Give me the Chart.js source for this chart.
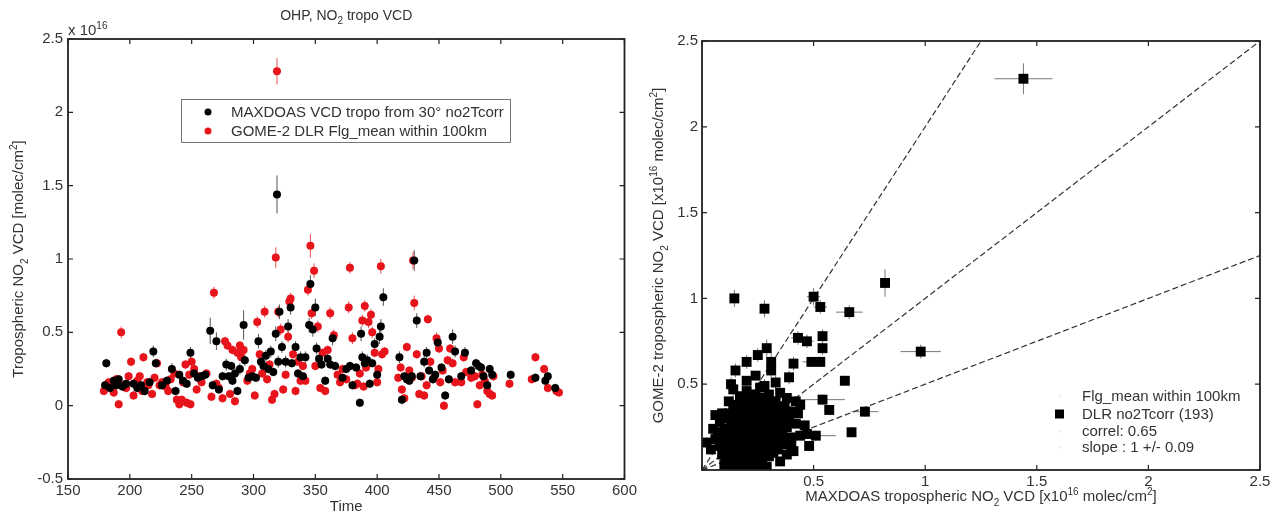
<!DOCTYPE html>
<html>
<head>
<meta charset="utf-8">
<script src="https://cdn.jsdelivr.net/npm/chart.js@4"></script>
<style>
  html, body { margin: 0; padding: 0; background: #fff; }
  #wrap { position: relative; width: 1277px; height: 515px; }
  .panel { position: absolute; top: 0; height: 515px; }
  #left { left: 0; width: 640px; }
  #right { left: 640px; width: 637px; }
</style>
</head>
<body>
<div id="wrap">
  <div class="panel" id="left"><canvas id="timeChart"></canvas></div>
  <div class="panel" id="right"><canvas id="corrChart"></canvas></div>
</div>
<script>
// time series: [day, VCD (x1e16), error]
const maxdoas = [
  [180,0.14,0.03],[181,0.29,0.03],[184,0.12,0.03],[187,0.17,0.03],[189,0.14,0.03],[191,0.18,0.03],[194,0.13,0.03],[197,0.15,0.03],
  [203,0.15,0.03],[206,0.12,0.03],[209,0.14,0.03],[212,0.10,0.03],[216,0.16,0.03],[219,0.37,0.04],[221,0.29,0.03],[226,0.14,0.03],
  [230,0.17,0.03],[234,0.25,0.04],[237,0.10,0.03],[240,0.21,0.03],[243,0.17,0.03],[246,0.15,0.03],[249,0.36,0.04],
  [252,0.22,0.03],[255,0.19,0.03],[258,0.20,0.03],[261,0.21,0.03],[265,0.51,0.09],[267,0.14,0.03],[270,0.44,0.06],[272,0.11,0.03],
  [275,0.20,0.03],[278,0.28,0.04],[280,0.20,0.03],[282,0.27,0.03],[283,0.17,0.03],[285,0.22,0.04],[287,0.10,0.03],[289,0.25,0.04],
  [292,0.55,0.10],[293,0.31,0.04],[296,0.19,0.03],[299,0.20,0.03],
  [302,0.19,0.03],[304,0.44,0.05],[306,0.30,0.04],[308,0.27,0.03],[310,0.34,0.04],[312,0.25,0.03],[314,0.37,0.04],[316,0.23,0.03],
  [318,0.49,0.05],[319,1.44,0.13],[320,0.30,0.04],[321,0.64,0.05],[323,0.40,0.04],[326,0.30,0.04],[328,0.54,0.05],[330,0.67,0.05],
  [331,0.29,0.03],[334,0.40,0.04],[336,0.22,0.03],[338,0.33,0.04],[340,0.20,0.03],[342,0.33,0.04],[345,0.55,0.05],[346,0.83,0.06],
  [348,0.52,0.05],[350,0.67,0.06],[351,0.39,0.04],[353,0.32,0.04],[355,0.28,0.03],[358,0.17,0.03],[360,0.32,0.04],
  [362,0.28,0.03],[364,0.46,0.05],[366,0.27,0.03],[372,0.19,0.03],[375,0.25,0.03],[378,0.27,0.03],[380,0.14,0.03],[383,0.26,0.03],
  [386,0.02,0.03],[387,0.49,0.05],[388,0.33,0.04],[390,0.29,0.03],[392,0.31,0.04],[394,0.15,0.03],[396,0.29,0.03],[398,0.42,0.04],
  [400,0.21,0.03],[402,0.47,0.05],[403,0.54,0.05],[405,0.74,0.06],
  [418,0.33,0.04],[420,0.04,0.03],[422,0.20,0.03],[424,0.18,0.03],[426,0.17,0.03],[428,0.20,0.03],[430,0.99,0.07],[432,0.58,0.05],
  [435,0.20,0.03],[438,0.30,0.04],[440,0.36,0.04],[442,0.24,0.03],[445,0.18,0.03],[447,0.21,0.03],[449,0.43,0.05],
  [452,0.26,0.03],[455,0.07,0.03],[458,0.18,0.03],[461,0.47,0.05],[463,0.37,0.04],[468,0.20,0.03],[471,0.36,0.04],[476,0.24,0.03],
  [480,0.29,0.03],[482,0.27,0.03],[484,0.26,0.03],[486,0.20,0.03],[489,0.14,0.03],[491,0.25,0.03],[493,0.21,0.03],
  [508,0.21,0.03],[528,0.19,0.03],[536,0.17,0.03],[538,0.20,0.03],[544,0.12,0.03]
];

const gome = [
  [179,0.10,0.03],[181,0.13,0.03],[183,0.16,0.03],[185,0.15,0.03],[187,0.09,0.03],[189,0.18,0.03],[191,0.01,0.03],[193,0.50,0.04],
  [195,0.14,0.03],[197,0.12,0.03],[199,0.20,0.03],
  [201,0.30,0.03],[203,0.07,0.03],[206,0.17,0.03],[208,0.20,0.03],[210,0.10,0.03],[211,0.33,0.03],[214,0.16,0.03],[215,0.14,0.03],
  [218,0.08,0.03],[220,0.19,0.03],[222,0.29,0.03],[224,0.14,0.03],[226,0.16,0.03],[229,0.13,0.03],[231,0.10,0.03],[233,0.18,0.03],
  [236,0.22,0.03],[238,0.04,0.03],[240,0.01,0.03],[242,0.04,0.03],[243,0.16,0.03],[245,0.28,0.03],[246,0.02,0.03],[248,0.21,0.03],
  [249,0.01,0.03],[250,0.30,0.03],
  [252,0.25,0.03],[254,0.11,0.03],[256,0.20,0.03],[258,0.16,0.03],[262,0.22,0.03],[266,0.06,0.03],[268,0.77,0.04],[270,0.15,0.03],
  [272,0.12,0.03],[275,0.05,0.03],[277,0.44,0.03],[279,0.41,0.03],[281,0.08,0.03],[283,0.38,0.03],[285,0.03,0.03],[287,0.36,0.03],
  [289,0.41,0.03],[290,0.33,0.03],[292,0.38,0.03],[295,0.17,0.03],[297,0.22,0.03],[299,0.25,0.03],
  [301,0.07,0.03],[303,0.57,0.04],[305,0.35,0.03],[307,0.22,0.03],[309,0.64,0.04],[311,0.18,0.03],[313,0.28,0.03],[315,0.04,0.03],
  [317,0.08,0.03],[318,1.01,0.07],[319,2.28,0.09],[320,0.64,0.04],[322,0.52,0.04],[324,0.11,0.03],[326,0.21,0.03],[328,0.47,0.04],
  [329,0.71,0.04],[330,0.73,0.04],[332,0.35,0.03],[334,0.10,0.03],[336,0.30,0.03],[338,0.17,0.03],[340,0.27,0.03],[342,0.17,0.03],
  [344,0.79,0.04],[346,1.09,0.08],[347,0.63,0.04],[349,0.92,0.05],[350,0.27,0.03],[352,0.54,0.04],[354,0.12,0.03],[356,0.36,0.03],
  [358,0.10,0.03],[360,0.38,0.03],[362,0.63,0.04],
  [365,0.48,0.04],[368,0.21,0.03],[370,0.16,0.03],[372,0.25,0.03],[375,0.18,0.03],[377,0.67,0.04],[378,0.94,0.04],[380,0.46,0.04],
  [382,0.14,0.03],[384,0.15,0.03],[386,0.22,0.03],[388,0.58,0.04],[389,0.13,0.03],[390,0.68,0.04],[391,0.26,0.03],[393,0.57,0.04],
  [395,0.62,0.04],[396,0.50,0.04],[398,0.36,0.03],[400,0.16,0.03],[401,0.25,0.03],[403,0.95,0.05],[404,0.35,0.03],[406,0.37,0.03],
  [417,0.19,0.03],[419,0.26,0.03],[420,0.11,0.03],[422,0.05,0.03],[424,0.40,0.03],[426,0.24,0.03],[428,0.19,0.03],[429,0.99,0.06],
  [430,0.70,0.05],[432,0.35,0.03],[434,0.08,0.03],[436,0.20,0.03],[438,0.07,0.03],[440,0.14,0.03],[441,0.59,0.03],[443,0.30,0.03],
  [446,0.19,0.03],[448,0.46,0.04],[450,0.39,0.03],
  [451,0.16,0.03],[453,0.24,0.03],[454,0.00,0.03],[457,0.31,0.03],[459,0.39,0.03],[461,0.29,0.03],[463,0.16,0.03],[468,0.16,0.03],
  [470,0.33,0.03],[472,0.23,0.03],[476,0.19,0.03],[479,0.20,0.03],[481,0.01,0.03],[483,0.14,0.03],[485,0.21,0.03],[487,0.17,0.03],
  [489,0.10,0.03],[491,0.08,0.03],[493,0.07,0.03],[494,0.20,0.03],
  [507,0.15,0.03],[525,0.18,0.03],[528,0.33,0.03],[535,0.25,0.03],[538,0.12,0.03],[545,0.10,0.03],[547,0.09,0.03]
];

// correlation: [MAXDOAS, GOME-2, xerr, yerr]; error bars only where listed
const corr = [
  [1.44,2.28,0.13,0.09],[0.82,1.09,0.02,0.08],[0.98,0.69,0.09,0.04],[0.145,1.00,0.02,0.05],[0.28,0.94,0.02,0.05],
  [0.50,1.01,0.03,0.05],[0.53,0.95,0.03,0.04],[0.66,0.92,0.06,0.04],[0.43,0.77,0.03,0.04],[0.47,0.75,0.03,0.04],
  [0.54,0.78,0.02,0.04],[0.54,0.71,0.02,0.04],[0.29,0.71,0.02,0.05],[0.25,0.67,0.02,0.04],[0.31,0.63,0.02,0.05],
  [0.20,0.63,0.02,0.04],[0.15,0.58,0.02,0.04],[0.49,0.63,0.04,0.03],[0.53,0.63,0.02,0.03],[0.41,0.62,0.02,0.04],
  [0.31,0.58,0.02,0.04],[0.39,0.54,0.02,0.04],[0.64,0.52,0.02,0.03],[0.33,0.51,0.02,0.04],[0.28,0.49,0.02,0.04],
  [0.13,0.50,0.02,0.04],[0.14,0.47,0.02,0.04],[0.20,0.46,0.02,0.04],[0.54,0.41,0.10,0.03],[0.42,0.40,0.03,0.03],
  [0.57,0.35,0.02,0.03],[0.73,0.34,0.06,0.03],[0.37,0.37,0.03,0.03],[0.345,0.37,0.02,0.03],[0.46,0.26,0.02,0.03],
  [0.51,0.20,0.09,0.03],[0.48,0.14,0.02,0.03],[0.47,0.21,0.02,0.03],[0.67,0.22,0.02,0.03],[0.38,0.17,0.02,0.03],
  [0.41,0.11,0.02,0.03],[0.34,0.12,0.02,0.03],[0.02,0.16,0.02,0.03],[0.04,0.12,0.02,0.03],[0.06,0.32,0.02,0.03],
  [0.09,0.33,0.02,0.03],[0.10,0.03,0.02,0.03],[0.105,0.07,0.02,0.03],[0.12,0.23],[0.13,0.27],[0.16,0.35],[0.17,0.43],
  [0.18,0.12],[0.20,0.01],[0.22,0.04],[0.29,0.02],
  [0.12,0.05],[0.15,0.06],[0.18,0.04],[0.24,0.06],[0.27,0.05],
  [0.11,0.10],[0.14,0.09],[0.16,0.08],[0.19,0.10],[0.21,0.08],[0.23,0.09],[0.26,0.10],[0.30,0.08],[0.32,0.10],
  [0.08,0.14],[0.10,0.13],[0.13,0.15],[0.15,0.14],[0.17,0.15],[0.20,0.13],[0.22,0.15],[0.24,0.13],[0.27,0.14],[0.30,0.15],[0.33,0.14],
  [0.09,0.19],[0.11,0.18],[0.14,0.20],[0.16,0.18],[0.18,0.19],[0.21,0.20],[0.23,0.18],[0.25,0.19],[0.28,0.20],[0.31,0.18],[0.36,0.20],[0.40,0.19],
  [0.10,0.24],[0.15,0.22],[0.17,0.25],[0.19,0.23],[0.22,0.24],[0.24,0.22],[0.26,0.25],[0.29,0.23],[0.32,0.24],[0.35,0.22],[0.38,0.25],
  [0.08,0.28],[0.14,0.29],[0.16,0.27],[0.18,0.30],[0.21,0.28],[0.23,0.30],[0.26,0.28],[0.28,0.30],[0.31,0.27],[0.34,0.29],[0.37,0.28],
  [0.12,0.33],[0.15,0.32],[0.19,0.34],[0.22,0.33],[0.25,0.35],[0.27,0.32],[0.30,0.34],[0.33,0.33],[0.36,0.32],[0.40,0.34],
  [0.14,0.38],[0.18,0.39],[0.21,0.37],[0.23,0.40],[0.26,0.38],[0.29,0.39],[0.32,0.37],
  [0.17,0.40],[0.20,0.42],[0.24,0.44],[0.27,0.42],[0.30,0.44],
  [0.19,0.16],[0.21,0.12],[0.23,0.21],[0.25,0.16],[0.17,0.21],[0.20,0.26],[0.22,0.19],[0.26,0.22],[0.18,0.08],[0.21,0.03],
  [0.25,0.02],[0.16,0.11],[0.13,0.12],[0.28,0.11],[0.24,0.27],[0.19,0.29],[0.15,0.26],[0.11,0.22],[0.27,0.18],[0.29,0.26],
  [0.33,0.19],[0.35,0.26],[0.31,0.21],[0.12,0.30],[0.10,0.16],[0.07,0.22],[0.14,0.03],[0.16,0.01],[0.23,0.01],[0.26,0.07],
  [0.31,0.12],[0.36,0.15],[0.38,0.09],[0.35,0.05],[0.30,0.30],
  [0.22,0.35],[0.25,0.31],[0.18,0.36],[0.28,0.36],[0.33,0.40],[0.36,0.37],[0.39,0.30],[0.42,0.27],[0.44,0.20],[0.40,0.14],
  [0.43,0.33],[0.12,0.40],[0.09,0.09],[0.06,0.18],[0.05,0.24],[0.20,0.52],[0.24,0.55],[0.35,0.45],[0.26,0.48],[0.38,0.42],[0.44,0.38]
];

const timeTicks = [150, 200, 250, 300, 350, 400, 450, 500, 550, 600];
const vcdTicks = [-0.5, 0, 0.5, 1, 1.5, 2, 2.5];
const corrTicks = [0, 0.5, 1, 1.5, 2, 2.5];
const refSlopes = [2, 1, 0.5];
const seriesLabels = ['MAXDOAS VCD tropo from 30\u00b0 no2Tcorr', 'GOME-2 DLR Flg_mean within 100km'];
const corrLegend = ['Flg_mean within 100km', 'DLR no2Tcorr (193)', 'correl: 0.65', 'slope : 1 +/- 0.09'];

const FONT = '"Liberation Sans", Arial, sans-serif';
const INK = '#333';
const RED = '#e8141b';

Chart.defaults.font.family = FONT;
Chart.defaults.color = INK;

// text with sub/superscript pieces, y is the visual middle of the line
function richText(ctx, parts, x, y, size, align) {
  const small = Math.round(size * 0.68);
  const widths = parts.map(([s, k]) => {
    ctx.font = (k ? small : size) + 'px ' + FONT;
    return ctx.measureText(s).width;
  });
  const total = widths.reduce((a, b) => a + b, 0);
  let cx = align === 'left' ? x : x - total / 2;
  const base = y + size * 0.36;
  ctx.textAlign = 'left';
  ctx.textBaseline = 'alphabetic';
  parts.forEach(([s, k], i) => {
    ctx.font = (k ? small : size) + 'px ' + FONT;
    const dy = k === 'sub' ? size * 0.3 : k === 'sup' ? -size * 0.45 : 0;
    ctx.fillText(s, cx, base + dy);
    cx += widths[i];
  });
}

function richTextUp(ctx, parts, x, y, size) {
  ctx.save();
  ctx.translate(x, y);
  ctx.rotate(-Math.PI / 2);
  richText(ctx, parts, 0, 0, size, 'center');
  ctx.restore();
}

// box round the plot with inward ticks on all four sides
const frameTicks = {
  id: 'frameTicks',
  afterDraw(chart) {
    const { ctx, chartArea: a, scales: { x, y } } = chart;
    ctx.save();
    ctx.strokeStyle = '#222';
    ctx.lineWidth = 1.2;
    ctx.beginPath();
    x.ticks.forEach(t => {
      const px = x.getPixelForValue(t.value);
      ctx.moveTo(px, a.bottom); ctx.lineTo(px, a.bottom - 5);
      ctx.moveTo(px, a.top); ctx.lineTo(px, a.top + 5);
    });
    y.ticks.forEach(t => {
      const py = y.getPixelForValue(t.value);
      ctx.moveTo(a.left, py); ctx.lineTo(a.left + 5, py);
      ctx.moveTo(a.right, py); ctx.lineTo(a.right - 5, py);
    });
    ctx.stroke();
    ctx.lineWidth = 1.8;
    ctx.strokeRect(a.left, a.top, a.right - a.left, a.bottom - a.top);
    ctx.restore();
  }
};

// error bars from ex / ey kept on each data point
const errorBars = {
  id: 'errorBars',
  beforeDatasetsDraw(chart) {
    const { ctx, chartArea: a, scales: { x, y } } = chart;
    ctx.save();
    ctx.beginPath();
    ctx.rect(a.left, a.top, a.right - a.left, a.bottom - a.top);
    ctx.clip();
    ctx.lineWidth = 1;
    chart.data.datasets.forEach(ds => {
      if (!ds.errColor) return;
      ctx.strokeStyle = ds.errColor;
      ctx.beginPath();
      ds.data.forEach(p => {
        const px = x.getPixelForValue(p.x), py = y.getPixelForValue(p.y);
        if (p.ey) {
          ctx.moveTo(px, y.getPixelForValue(p.y - p.ey));
          ctx.lineTo(px, y.getPixelForValue(p.y + p.ey));
        }
        if (p.ex) {
          ctx.moveTo(x.getPixelForValue(p.x - p.ex), py);
          ctx.lineTo(x.getPixelForValue(p.x + p.ex), py);
        }
      });
      ctx.stroke();
    });
    ctx.restore();
  }
};

function fixedTicks(list) {
  return scale => { scale.ticks = list.map(v => ({ value: v })); };
}

// plain numbers the way the axis prints them: 2, 1.5, 0, -0.5
const plainNumber = v => String(v);
const hideZero = v => (v === 0 ? '' : String(v));

const baseOptions = {
  responsive: true,
  maintainAspectRatio: false,
  animation: false,
  devicePixelRatio: 1,
  events: [],
  plugins: { legend: { display: false }, tooltip: { enabled: false } }
};

// ---- left: time series ----
const timeLabels = {
  id: 'timeLabels',
  afterDraw(chart) {
    const { ctx, chartArea: a } = chart;
    const mid = (a.left + a.right) / 2;
    ctx.save();
    ctx.fillStyle = INK;
    richText(ctx, [['OHP, NO'], ['2', 'sub'], [' tropo VCD']], mid, 15, 14, 'center');
    richText(ctx, [['x 10'], ['16', 'sup']], a.left, 30, 15, 'left');
    richText(ctx, [['Time']], mid, 506, 15, 'center');
    richTextUp(ctx, [['Tropospheric NO'], ['2', 'sub'], [' VCD [molec/cm'], ['2', 'sup'], [']']], 18, (a.top + a.bottom) / 2, 15);

    // legend box
    ctx.fillStyle = '#fff';
    ctx.fillRect(181.5, 99.5, 329, 43);
    ctx.strokeStyle = '#777';
    ctx.lineWidth = 1;
    ctx.strokeRect(181.5, 99.5, 329, 43);
    const colors = ['#000', RED];
    seriesLabels.forEach((lab, i) => {
      const yy = 112 + i * 19;
      ctx.fillStyle = colors[i];
      ctx.beginPath();
      ctx.arc(208, yy, 3.5, 0, Math.PI * 2);
      ctx.fill();
      ctx.fillStyle = INK;
      richText(ctx, [[lab]], 231, yy, 15, 'left');
    });
    ctx.restore();
  }
};

new Chart(document.getElementById('timeChart'), {
  type: 'scatter',
  data: {
    datasets: [
      {
        label: seriesLabels[0],
        data: maxdoas.map(([t, v, e]) => ({ x: t, y: v, ey: e })),
        backgroundColor: '#000',
        borderWidth: 0,
        pointRadius: 4,
        errColor: '#555',
        order: 0
      },
      {
        label: seriesLabels[1],
        data: gome.map(([t, v, e]) => ({ x: t, y: v, ey: e })),
        backgroundColor: RED,
        borderWidth: 0,
        pointRadius: 4,
        errColor: '#f05050',
        order: 1
      }
    ]
  },
  options: {
    ...baseOptions,
    layout: { padding: { left: 0, top: 39, right: 14, bottom: 0 } },
    scales: {
      x: {
        type: 'linear', min: 150, max: 600,
        afterBuildTicks: fixedTicks(timeTicks),
        afterFit: s => { s.height = 36; },
        grid: { display: false, drawTicks: false },
        border: { display: false },
        ticks: { autoSkip: false, padding: 3, font: { size: 15 }, color: INK, callback: plainNumber }
      },
      y: {
        type: 'linear', min: -0.5, max: 2.5,
        afterBuildTicks: fixedTicks(vcdTicks),
        afterFit: s => { s.width = 68; },
        grid: { display: false, drawTicks: false },
        border: { display: false },
        ticks: { autoSkip: false, padding: 5, font: { size: 15 }, color: INK, callback: plainNumber }
      }
    }
  },
  plugins: [errorBars, frameTicks, timeLabels]
});

// ---- right: correlation ----
const corrLabels = {
  id: 'corrLabels',
  afterDraw(chart) {
    const { ctx, chartArea: a } = chart;
    ctx.save();
    ctx.fillStyle = INK;
    const axisParts = name => [[name + ' tropospheric NO'], ['2', 'sub'], [' VCD [x10'], ['16', 'sup'], [' molec/cm'], ['2', 'sup'], [']']];
    richText(ctx, axisParts('MAXDOAS'), (a.left + a.right) / 2, 496, 15, 'center');
    richTextUp(ctx, axisParts('GOME-2'), 18, (a.top + a.bottom) / 2, 15);

    const rows = [396, 414, 431, 447];
    corrLegend.forEach((lab, i) => {
      if (i === 1) {
        ctx.fillStyle = '#000';
        ctx.fillRect(415, rows[i] - 4.5, 9, 9);
      } else {
        ctx.fillStyle = '#eee';
        ctx.beginPath();
        ctx.arc(419.5, rows[i], 1.5, 0, Math.PI * 2);
        ctx.fill();
      }
      ctx.fillStyle = INK;
      richText(ctx, [[lab]], 442, rows[i], 15, 'left');
    });
    ctx.restore();
  }
};

new Chart(document.getElementById('corrChart'), {
  type: 'scatter',
  data: {
    datasets: [
      {
        label: corrLegend[1],
        data: corr.map(([x, y, ex, ey]) => ({ x, y, ex, ey })),
        backgroundColor: '#000',
        borderWidth: 0,
        pointStyle: 'rect',
        pointRadius: 7,
        errColor: '#777',
        order: 0
      },
      ...refSlopes.map(s => ({
        type: 'line',
        data: [{ x: 0, y: 0 }, { x: Math.min(2.5, 2.5 / s), y: Math.min(2.5, 2.5 * s) }],
        borderColor: '#333',
        borderWidth: 1.2,
        borderDash: [6, 3],
        pointRadius: 0,
        fill: false,
        order: 1
      }))
    ]
  },
  options: {
    ...baseOptions,
    layout: { padding: { left: 0, top: 41, right: 17, bottom: 0 } },
    scales: {
      x: {
        type: 'linear', min: 0, max: 2.5,
        afterBuildTicks: fixedTicks(corrTicks),
        afterFit: s => { s.height = 45; },
        grid: { display: false, drawTicks: false },
        border: { display: false },
        ticks: { autoSkip: false, padding: 3, font: { size: 15 }, color: INK, callback: hideZero }
      },
      y: {
        type: 'linear', min: 0, max: 2.5,
        afterBuildTicks: fixedTicks(corrTicks),
        afterFit: s => { s.width = 62; },
        grid: { display: false, drawTicks: false },
        border: { display: false },
        ticks: { autoSkip: false, padding: 4, font: { size: 15 }, color: INK, callback: hideZero }
      }
    }
  },
  plugins: [errorBars, frameTicks, corrLabels]
});
</script>
</body>
</html>
